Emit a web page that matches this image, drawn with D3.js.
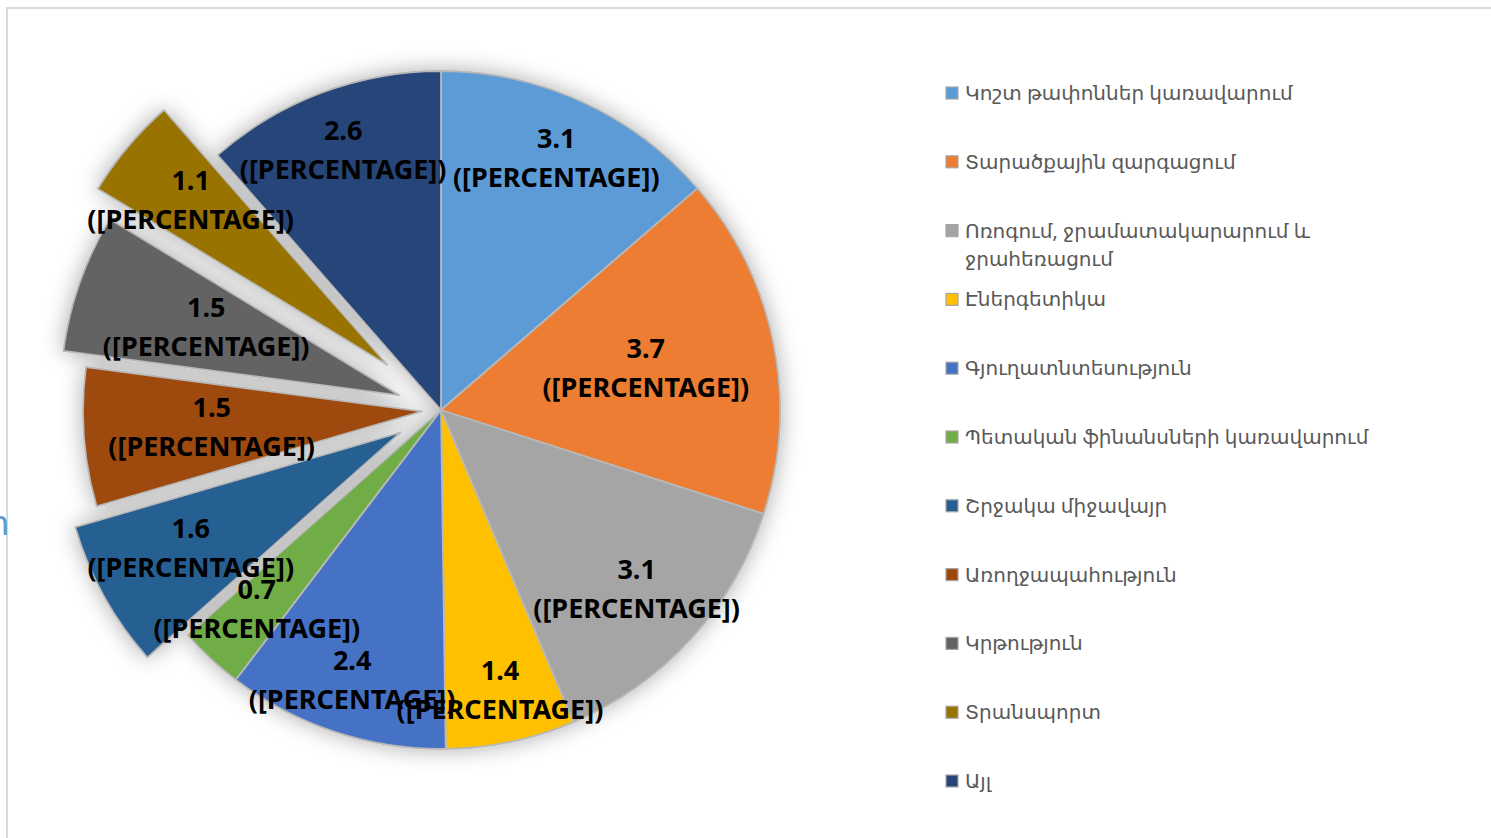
<!DOCTYPE html>
<html>
<head>
<meta charset="utf-8">
<script src="https://cdn.jsdelivr.net/npm/d3@7"></script>
<style>
  body { margin: 0; background: #fff; overflow: hidden; }
  svg { display: block; }
  .label { font-family: "Noto Sans", "DejaVu Sans", sans-serif; font-weight: 700; fill: #000; }
  .legend text { font-family: "Noto Sans", "DejaVu Sans", sans-serif; fill: #595959; }
</style>
</head>
<body>
<svg id="chart"></svg>
<script>
// Data
const categories = [
  'Կոշտ թափոններ կառավարում',
  'Տարածքային զարգացում',
  'Ոռոգում, ջրամատակարարում և ջրահեռացում',
  'Էներգետիկա',
  'Գյուղատնտեսություն',
  'Պետական ֆինանսների կառավարում',
  'Շրջակա միջավայր',
  'Առողջապահություն',
  'Կրթություն',
  'Տրանսպորտ',
  'Այլ'
];
const values = [3.1, 3.7, 3.1, 1.4, 2.4, 0.7, 1.6, 1.5, 1.5, 1.1, 2.6];
const colors = ['#5b9bd5', '#ed7d31', '#a5a5a5', '#ffc000', '#4472c4', '#70ad47',
                '#255e91', '#9e480e', '#636363', '#997300', '#264478'];

// layout: how far each slice is pulled out, and label distance from its centre
const explode = [0, 0, 0, 0, 0, 0, 46, 19, 44, 70, 0];
const labelRadius = [277, 209, 265, 286, 284, 271, 240, 211, 205, 257, 278];

const width = 1491, height = 838;
const cx = 441, cy = 410, radius = 339;

const svg = d3.select('#chart').attr('width', width).attr('height', height);

// chart frame
svg.append('rect')
  .attr('x', 7).attr('y', 8)
  .attr('width', width + 20).attr('height', height + 20)
  .attr('fill', 'none').attr('stroke', '#d9d9d9').attr('stroke-width', 2);

// cut-off title glyph at the left edge
svg.append('text')
  .attr('x', -12).attr('y', 535)
  .attr('font-family', '"Noto Sans", sans-serif')
  .attr('font-size', 34).attr('fill', '#5b9bd5')
  .text('ր');

const defs = svg.append('defs');
const shadow = defs.append('filter').attr('id', 'shadow')
  .attr('x', '-20%').attr('y', '-20%').attr('width', '140%').attr('height', '140%');
shadow.append('feDropShadow')
  .attr('dx', 0).attr('dy', 0).attr('stdDeviation', 11)
  .attr('flood-color', '#000').attr('flood-opacity', 0.32);

const pie = d3.pie().sort(null).value(d => d);
const arcs = pie(values);
const arc = d3.arc().innerRadius(0).outerRadius(radius);

const pieGroup = svg.append('g')
  .attr('transform', `translate(${cx},${cy})`)
  .attr('filter', 'url(#shadow)');

function offset(d, r) {
  const a = (d.startAngle + d.endAngle) / 2;
  return [Math.sin(a) * r, -Math.cos(a) * r];
}

pieGroup.selectAll('path')
  .data(arcs)
  .enter()
  .append('path')
  .attr('d', arc)
  .attr('transform', (d, i) => {
    const [x, y] = offset(d, explode[i]);
    return `translate(${x},${y})`;
  })
  .attr('fill', (d, i) => colors[i])
  .attr('stroke', '#b8b8b8')
  .attr('stroke-width', 1.8)
  .attr('stroke-linejoin', 'round');

// data labels
const labelGroup = svg.append('g').attr('transform', `translate(${cx},${cy})`);
const labels = labelGroup.selectAll('g')
  .data(arcs)
  .enter()
  .append('g')
  .attr('class', 'label')
  .attr('transform', (d, i) => {
    const [x, y] = offset(d, explode[i] + labelRadius[i]);
    return `translate(${x},${y})`;
  });

labels.append('text')
  .attr('text-anchor', 'middle')
  .attr('y', -10)
  .attr('font-size', 27)
  .text(d => d.data.toFixed(1));

labels.append('text')
  .attr('text-anchor', 'middle')
  .attr('y', 29)
  .attr('font-size', 27)
  .text('([PERCENTAGE])');

// legend
const legendTop = 93, legendStep = 68.8;
const legend = svg.append('g').attr('class', 'legend');
const items = legend.selectAll('g')
  .data(categories)
  .enter()
  .append('g')
  .attr('transform', (d, i) => `translate(946,${legendTop + i * legendStep})`);

items.append('rect')
  .attr('x', 0).attr('y', -6)
  .attr('width', 12).attr('height', 12)
  .attr('fill', (d, i) => colors[i])
  .attr('stroke', '#a6a6a6').attr('stroke-width', 1.2);

items.each(function (d) {
  const t = d3.select(this).append('text')
    .attr('x', 19).attr('y', 7)
    .attr('font-size', 20);
  // wrap the long item onto two lines like the reference
  const lines = d.length > 32 ? [d.slice(0, d.lastIndexOf(' ')), d.slice(d.lastIndexOf(' ') + 1)] : [d];
  lines.forEach((ln, k) => {
    t.append('tspan').attr('x', 19).attr('dy', k ? 28 : 0).text(ln);
  });
});
</script>
</body>
</html>
